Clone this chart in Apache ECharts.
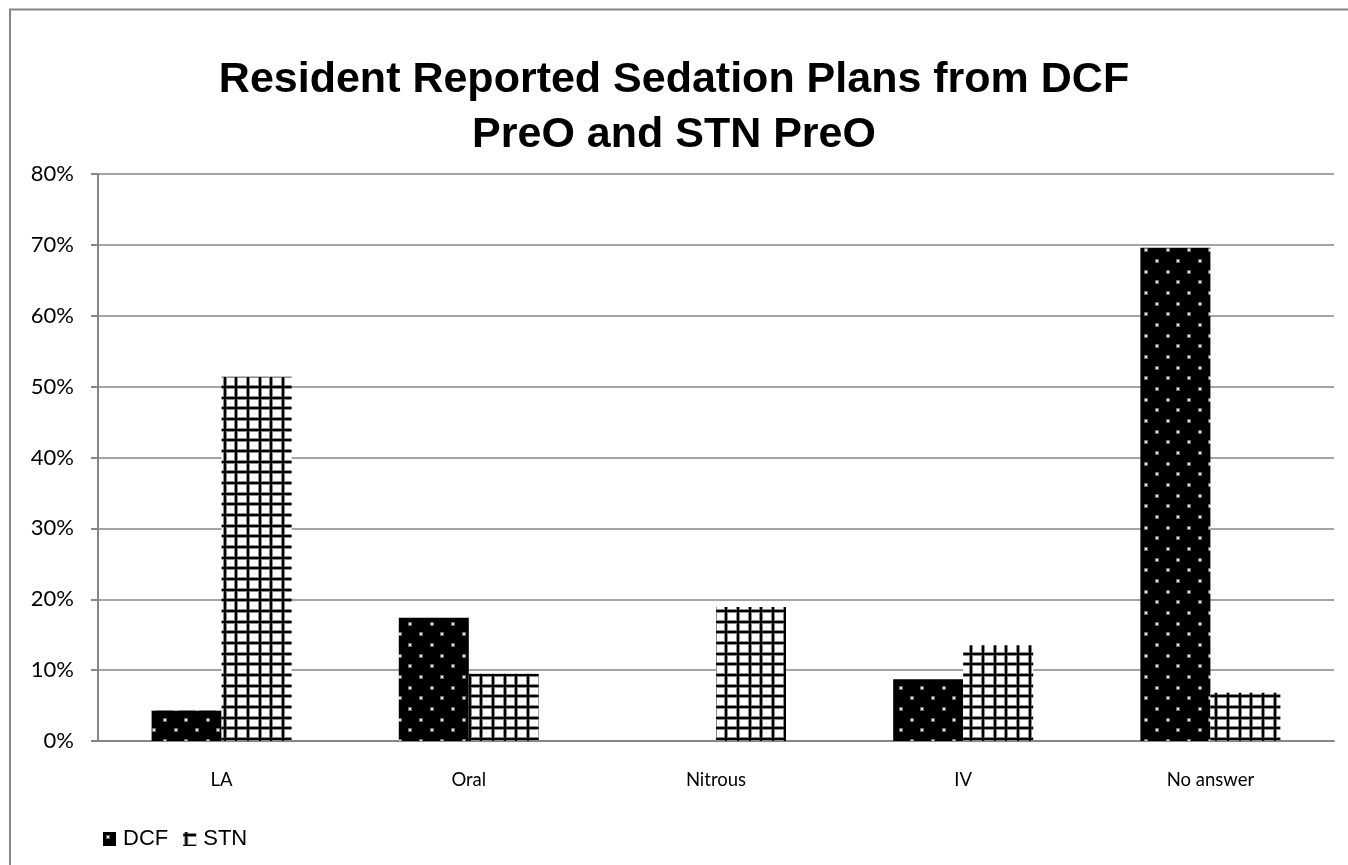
<!DOCTYPE html>
<html>
<head>
<meta charset="utf-8">
<script src="https://cdn.jsdelivr.net/npm/echarts@6/dist/echarts.min.js"></script>
<style>
  html, body { margin: 0; padding: 0; background: #fff; }
  #chart { width: 1348px; height: 865px; }
</style>
</head>
<body>
<div id="chart"></div>
<script>
// Sedation plan categories and the share (%) of each group reporting them
const categories = ['LA', 'Oral', 'Nitrous', 'IV', 'No answer'];
const dcfValues = [4.3, 17.4, 0, 8.7, 69.6];
const stnValues = [51.4, 9.5, 18.9, 13.5, 6.8];
const seriesNames = ['DCF', 'STN'];
const titleText = 'Resident Reported Sedation Plans from DCF\nPreO and STN PreO';

// Black fill with staggered light dots
function dotPattern() {
  const c = document.createElement('canvas');
  c.width = 64; c.height = 64;
  const ctx = c.getContext('2d');
  ctx.fillStyle = '#000';
  ctx.fillRect(0, 0, 64, 64);
  const s = 64 / 3;
  const dot = (x, y) => {
    ctx.fillStyle = '#6a6a6a';
    ctx.fillRect(x - 1, y - 1, 4, 4);
    ctx.fillStyle = '#e8e8e8';
    ctx.fillRect(x, y, 2, 2);
  };
  for (let i = 0; i < 3; i++) {
    for (let j = 0; j < 3; j++) {
      dot(Math.round(i * s + 4), Math.round(j * s + 4));
      dot(Math.round(i * s + 4 + s / 2), Math.round(j * s + 4 + s / 2));
    }
  }
  return c;
}

// White fill with a black square grid
function gridPattern() {
  const w = 35, h = 32;
  const c = document.createElement('canvas');
  c.width = w; c.height = h;
  const ctx = c.getContext('2d');
  ctx.fillStyle = '#fff';
  ctx.fillRect(0, 0, w, h);
  for (let i = 0; i < 3; i++) {
    const x = Math.round(i * w / 3) + 2;
    const y = Math.round(i * h / 3) + 2;
    ctx.fillStyle = '#8a8a8a';
    ctx.fillRect(x - 1, 0, 4, h);
    ctx.fillRect(0, y - 1, w, 4);
  }
  ctx.fillStyle = '#000';
  for (let i = 0; i < 3; i++) {
    const x = Math.round(i * w / 3) + 2;
    const y = Math.round(i * h / 3) + 2;
    ctx.fillRect(x, 0, 2, h);
    ctx.fillRect(0, y, w, 2);
  }
  return c;
}

const chart = echarts.init(document.getElementById('chart'));
const axisGray = '#868686';
const tickFont = 'Lato, "Open Sans", sans-serif';

chart.setOption({
  animation: false,
  backgroundColor: '#fff',
  graphic: [{
    type: 'rect',
    shape: { x: 10, y: 9.5, width: 1400, height: 900 },
    style: { fill: 'none', stroke: axisGray, lineWidth: 2 },
    silent: true
  }],
  title: {
    text: titleText,
    left: 'center',
    top: 48,
    textStyle: {
      fontFamily: '"Liberation Sans", Arial, sans-serif',
      fontWeight: 'bold',
      fontSize: 43,
      lineHeight: 55,
      color: '#000'
    }
  },
  legend: {
    data: seriesNames,
    left: 98,
    top: 823,
    itemWidth: 13,
    itemHeight: 14,
    itemGap: 15,
    icon: 'rect',
    textStyle: {
      fontFamily: '"Liberation Sans", Arial, sans-serif',
      fontSize: 22,
      color: '#000',
      padding: [0, 0, 0, 2]
    }
  },
  grid: { left: 98, right: 14, top: 174, bottom: 124, containLabel: false },
  xAxis: {
    type: 'category',
    data: categories,
    axisLine: { lineStyle: { color: axisGray, width: 2 } },
    axisTick: { length: 7, lineStyle: { color: axisGray, width: 2 } },
    axisLabel: { fontFamily: tickFont, fontSize: 18.5, color: '#000', margin: 30 }
  },
  yAxis: {
    type: 'value',
    min: 0,
    max: 80,
    interval: 10,
    axisLine: { show: true, lineStyle: { color: axisGray, width: 2 } },
    axisTick: { show: true, length: 7, lineStyle: { color: axisGray, width: 2 } },
    axisLabel: { formatter: '{value}%', fontFamily: tickFont, fontSize: 22, color: '#000', margin: 24 },
    splitLine: { lineStyle: { color: axisGray, width: 1.5 } }
  },
  series: [
    {
      name: seriesNames[0],
      type: 'bar',
      data: dcfValues,
      barWidth: 70,
      barGap: '0%',
      itemStyle: { color: { image: dotPattern(), repeat: 'repeat' } }
    },
    {
      name: seriesNames[1],
      type: 'bar',
      data: stnValues,
      barWidth: 70,
      barGap: '0%',
      itemStyle: { color: { image: gridPattern(), repeat: 'repeat' } }
    }
  ]
});
</script>
</body>
</html>
